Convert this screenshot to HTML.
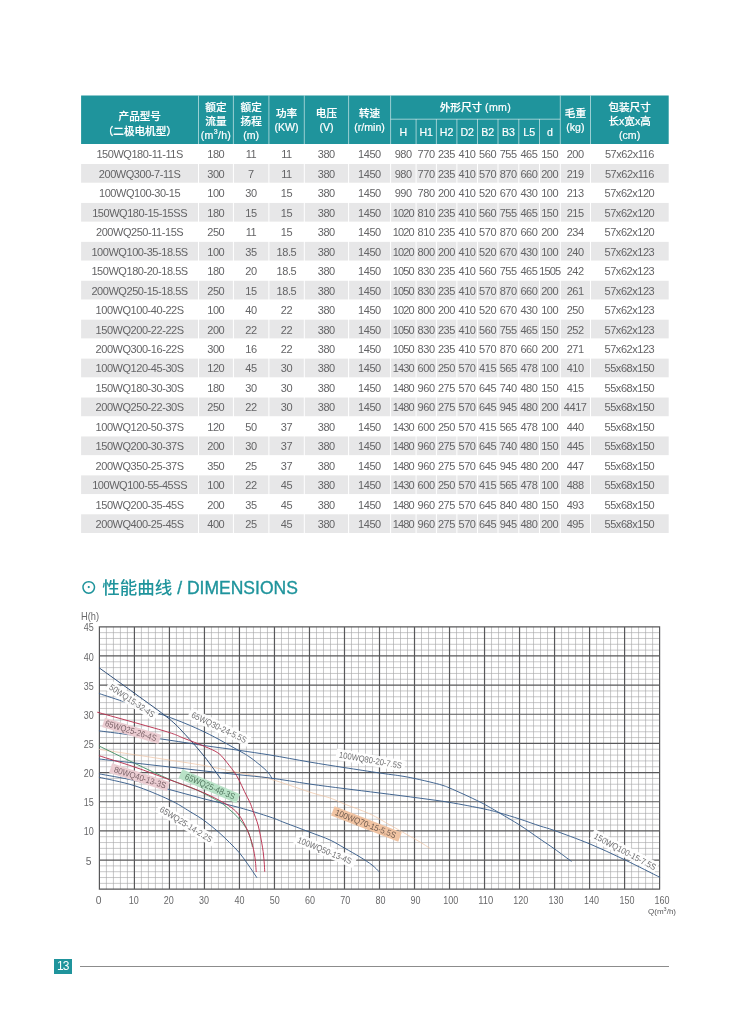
<!DOCTYPE html>
<html lang="zh-CN"><head><meta charset="utf-8"><title>WQ 性能曲线</title>
<style>
html,body{margin:0;padding:0;background:#fff;}
body{width:750px;height:1017px;position:relative;overflow:hidden;font-family:"Liberation Sans","Noto Sans CJK SC",sans-serif;color:#5a5a5a;}
.abs{position:absolute;}
.ht{position:absolute;color:#fff;font-size:10.6px;line-height:14.2px;text-align:center;font-weight:500;white-space:nowrap;-webkit-text-stroke:0.2px #fff;}
.title{position:absolute;left:80px;top:572.6px;font-size:17.5px;line-height:30px;color:#1f949c;font-weight:500;white-space:nowrap;}
svg text{font-family:"Liberation Sans","Noto Sans CJK SC",sans-serif;}
</style></head><body>
<svg width="750" height="160" viewBox="0 0 750 160" style="position:absolute;left:0;top:0">
<rect x="81.1" y="95.5" width="587.6" height="48.5" fill="#1f949c"/>
<path d="M198.5 95.5V144.0M233.4 95.5V144.0M268.9 95.5V144.0M304.3 95.5V144.0M348.6 95.5V144.0M390.6 95.5V144.0M416.1 119.2V144.0M436.4 119.2V144.0M456.9 119.2V144.0M477.5 119.2V144.0M498.0 119.2V144.0M518.8 119.2V144.0M539.5 119.2V144.0M560.3 95.5V144.0M590.5 95.5V144.0M390.6 119.2H560.3" stroke="#fff" stroke-opacity="0.62" stroke-width="0.9" fill="none"/>
</svg>
<div class="ht" style="left:81.1px;top:108.8px;width:117.4px;line-height:14.9px">产品型号<br>（二极电机型）</div>
<div class="ht" style="left:198.5px;top:99.5px;width:34.9px;">额定<br>流量<br><span style="letter-spacing:0.3px">(m<sup style="font-size:7px;line-height:0">3</sup>/h)</span></div>
<div class="ht" style="left:233.4px;top:99.5px;width:35.5px;">额定<br>扬程<br>(m)</div>
<div class="ht" style="left:268.9px;top:105.8px;width:35.4px;">功率<br>(KW)</div>
<div class="ht" style="left:304.3px;top:105.8px;width:44.3px;">电压<br>(V)</div>
<div class="ht" style="left:348.6px;top:105.8px;width:42.0px;">转速<br>(r/min)</div>
<div class="ht" style="left:390.6px;top:100.0px;width:169.7px;">外形尺寸 <span style="letter-spacing:0.35px">(mm)</span></div>
<div class="ht" style="left:390.6px;top:125.0px;width:25.5px;">H</div>
<div class="ht" style="left:416.1px;top:125.0px;width:20.3px;">H1</div>
<div class="ht" style="left:436.4px;top:125.0px;width:20.5px;">H2</div>
<div class="ht" style="left:456.9px;top:125.0px;width:20.6px;">D2</div>
<div class="ht" style="left:477.5px;top:125.0px;width:20.5px;">B2</div>
<div class="ht" style="left:498.0px;top:125.0px;width:20.8px;">B3</div>
<div class="ht" style="left:518.8px;top:125.0px;width:20.7px;">L5</div>
<div class="ht" style="left:539.5px;top:125.0px;width:20.8px;">d</div>
<div class="ht" style="left:560.3px;top:105.8px;width:30.2px;">毛重<br>(kg)</div>
<div class="ht" style="left:590.5px;top:99.5px;width:78.2px;">包装尺寸<br>长x宽x高<br>(cm)</div>
<svg width="750" height="400" viewBox="0 140 750 400" style="position:absolute;left:0;top:140px">
<rect x="81.1" y="164.01" width="587.6" height="18.7" fill="#e7e7e8"/>
<rect x="81.1" y="202.93" width="587.6" height="18.7" fill="#e7e7e8"/>
<rect x="81.1" y="241.85" width="587.6" height="18.7" fill="#e7e7e8"/>
<rect x="81.1" y="280.77" width="587.6" height="18.7" fill="#e7e7e8"/>
<rect x="81.1" y="319.69" width="587.6" height="18.7" fill="#e7e7e8"/>
<rect x="81.1" y="358.61" width="587.6" height="18.7" fill="#e7e7e8"/>
<rect x="81.1" y="397.53" width="587.6" height="18.7" fill="#e7e7e8"/>
<rect x="81.1" y="436.45" width="587.6" height="18.7" fill="#e7e7e8"/>
<rect x="81.1" y="475.37" width="587.6" height="18.7" fill="#e7e7e8"/>
<rect x="81.1" y="514.29" width="587.6" height="18.7" fill="#e7e7e8"/>
<path d="M198.5 144V533.5M233.4 144V533.5M268.9 144V533.5M304.3 144V533.5M348.6 144V533.5M390.6 144V533.5M416.1 144V533.5M436.4 144V533.5M456.9 144V533.5M477.5 144V533.5M498.0 144V533.5M518.8 144V533.5M539.5 144V533.5M560.3 144V533.5M590.5 144V533.5" stroke="#fff" stroke-width="1" fill="none"/>
<g font-size="11" fill="#646466" text-anchor="middle" letter-spacing="-0.45">
<text x="139.6" y="158">150WQ180-11-11S</text>
<text x="215.8" y="158">180</text>
<text x="250.9" y="158">11</text>
<text x="286.4" y="158">11</text>
<text x="326.3" y="158">380</text>
<text x="369.4" y="158">1450</text>
<text x="403.2" y="158">980</text>
<text x="426.1" y="158">770</text>
<text x="446.4" y="158">235</text>
<text x="467.0" y="158">410</text>
<text x="487.6" y="158">560</text>
<text x="508.2" y="158">755</text>
<text x="528.9" y="158">465</text>
<text x="549.7" y="158">150</text>
<text x="575.2" y="158">200</text>
<text x="629.4" y="158">57x62x116</text>
<text x="139.6" y="178">200WQ300-7-11S</text>
<text x="215.8" y="178">300</text>
<text x="250.9" y="178">7</text>
<text x="286.4" y="178">11</text>
<text x="326.3" y="178">380</text>
<text x="369.4" y="178">1450</text>
<text x="403.2" y="178">980</text>
<text x="426.1" y="178">770</text>
<text x="446.4" y="178">235</text>
<text x="467.0" y="178">410</text>
<text x="487.6" y="178">570</text>
<text x="508.2" y="178">870</text>
<text x="528.9" y="178">660</text>
<text x="549.7" y="178">200</text>
<text x="575.2" y="178">219</text>
<text x="629.4" y="178">57x62x116</text>
<text x="139.6" y="197">100WQ100-30-15</text>
<text x="215.8" y="197">100</text>
<text x="250.9" y="197">30</text>
<text x="286.4" y="197">15</text>
<text x="326.3" y="197">380</text>
<text x="369.4" y="197">1450</text>
<text x="403.2" y="197">990</text>
<text x="426.1" y="197">780</text>
<text x="446.4" y="197">200</text>
<text x="467.0" y="197">410</text>
<text x="487.6" y="197">520</text>
<text x="508.2" y="197">670</text>
<text x="528.9" y="197">430</text>
<text x="549.7" y="197">100</text>
<text x="575.2" y="197">213</text>
<text x="629.4" y="197">57x62x120</text>
<text x="139.6" y="217">150WQ180-15-15SS</text>
<text x="215.8" y="217">180</text>
<text x="250.9" y="217">15</text>
<text x="286.4" y="217">15</text>
<text x="326.3" y="217">380</text>
<text x="369.4" y="217">1450</text>
<text x="403.2" y="217" letter-spacing="-0.85">1020</text>
<text x="426.1" y="217">810</text>
<text x="446.4" y="217">235</text>
<text x="467.0" y="217">410</text>
<text x="487.6" y="217">560</text>
<text x="508.2" y="217">755</text>
<text x="528.9" y="217">465</text>
<text x="549.7" y="217">150</text>
<text x="575.2" y="217">215</text>
<text x="629.4" y="217">57x62x120</text>
<text x="139.6" y="236">200WQ250-11-15S</text>
<text x="215.8" y="236">250</text>
<text x="250.9" y="236">11</text>
<text x="286.4" y="236">15</text>
<text x="326.3" y="236">380</text>
<text x="369.4" y="236">1450</text>
<text x="403.2" y="236" letter-spacing="-0.85">1020</text>
<text x="426.1" y="236">810</text>
<text x="446.4" y="236">235</text>
<text x="467.0" y="236">410</text>
<text x="487.6" y="236">570</text>
<text x="508.2" y="236">870</text>
<text x="528.9" y="236">660</text>
<text x="549.7" y="236">200</text>
<text x="575.2" y="236">234</text>
<text x="629.4" y="236">57x62x120</text>
<text x="139.6" y="256">100WQ100-35-18.5S</text>
<text x="215.8" y="256">100</text>
<text x="250.9" y="256">35</text>
<text x="286.4" y="256">18.5</text>
<text x="326.3" y="256">380</text>
<text x="369.4" y="256">1450</text>
<text x="403.2" y="256" letter-spacing="-0.85">1020</text>
<text x="426.1" y="256">800</text>
<text x="446.4" y="256">200</text>
<text x="467.0" y="256">410</text>
<text x="487.6" y="256">520</text>
<text x="508.2" y="256">670</text>
<text x="528.9" y="256">430</text>
<text x="549.7" y="256">100</text>
<text x="575.2" y="256">240</text>
<text x="629.4" y="256">57x62x123</text>
<text x="139.6" y="275">150WQ180-20-18.5S</text>
<text x="215.8" y="275">180</text>
<text x="250.9" y="275">20</text>
<text x="286.4" y="275">18.5</text>
<text x="326.3" y="275">380</text>
<text x="369.4" y="275">1450</text>
<text x="403.2" y="275" letter-spacing="-0.85">1050</text>
<text x="426.1" y="275">830</text>
<text x="446.4" y="275">235</text>
<text x="467.0" y="275">410</text>
<text x="487.6" y="275">560</text>
<text x="508.2" y="275">755</text>
<text x="528.9" y="275">465</text>
<text x="549.7" y="275" letter-spacing="-0.85">1505</text>
<text x="575.2" y="275">242</text>
<text x="629.4" y="275">57x62x123</text>
<text x="139.6" y="295">200WQ250-15-18.5S</text>
<text x="215.8" y="295">250</text>
<text x="250.9" y="295">15</text>
<text x="286.4" y="295">18.5</text>
<text x="326.3" y="295">380</text>
<text x="369.4" y="295">1450</text>
<text x="403.2" y="295" letter-spacing="-0.85">1050</text>
<text x="426.1" y="295">830</text>
<text x="446.4" y="295">235</text>
<text x="467.0" y="295">410</text>
<text x="487.6" y="295">570</text>
<text x="508.2" y="295">870</text>
<text x="528.9" y="295">660</text>
<text x="549.7" y="295">200</text>
<text x="575.2" y="295">261</text>
<text x="629.4" y="295">57x62x123</text>
<text x="139.6" y="314">100WQ100-40-22S</text>
<text x="215.8" y="314">100</text>
<text x="250.9" y="314">40</text>
<text x="286.4" y="314">22</text>
<text x="326.3" y="314">380</text>
<text x="369.4" y="314">1450</text>
<text x="403.2" y="314" letter-spacing="-0.85">1020</text>
<text x="426.1" y="314">800</text>
<text x="446.4" y="314">200</text>
<text x="467.0" y="314">410</text>
<text x="487.6" y="314">520</text>
<text x="508.2" y="314">670</text>
<text x="528.9" y="314">430</text>
<text x="549.7" y="314">100</text>
<text x="575.2" y="314">250</text>
<text x="629.4" y="314">57x62x123</text>
<text x="139.6" y="334">150WQ200-22-22S</text>
<text x="215.8" y="334">200</text>
<text x="250.9" y="334">22</text>
<text x="286.4" y="334">22</text>
<text x="326.3" y="334">380</text>
<text x="369.4" y="334">1450</text>
<text x="403.2" y="334" letter-spacing="-0.85">1050</text>
<text x="426.1" y="334">830</text>
<text x="446.4" y="334">235</text>
<text x="467.0" y="334">410</text>
<text x="487.6" y="334">560</text>
<text x="508.2" y="334">755</text>
<text x="528.9" y="334">465</text>
<text x="549.7" y="334">150</text>
<text x="575.2" y="334">252</text>
<text x="629.4" y="334">57x62x123</text>
<text x="139.6" y="353">200WQ300-16-22S</text>
<text x="215.8" y="353">300</text>
<text x="250.9" y="353">16</text>
<text x="286.4" y="353">22</text>
<text x="326.3" y="353">380</text>
<text x="369.4" y="353">1450</text>
<text x="403.2" y="353" letter-spacing="-0.85">1050</text>
<text x="426.1" y="353">830</text>
<text x="446.4" y="353">235</text>
<text x="467.0" y="353">410</text>
<text x="487.6" y="353">570</text>
<text x="508.2" y="353">870</text>
<text x="528.9" y="353">660</text>
<text x="549.7" y="353">200</text>
<text x="575.2" y="353">271</text>
<text x="629.4" y="353">57x62x123</text>
<text x="139.6" y="372">100WQ120-45-30S</text>
<text x="215.8" y="372">120</text>
<text x="250.9" y="372">45</text>
<text x="286.4" y="372">30</text>
<text x="326.3" y="372">380</text>
<text x="369.4" y="372">1450</text>
<text x="403.2" y="372" letter-spacing="-0.85">1430</text>
<text x="426.1" y="372">600</text>
<text x="446.4" y="372">250</text>
<text x="467.0" y="372">570</text>
<text x="487.6" y="372">415</text>
<text x="508.2" y="372">565</text>
<text x="528.9" y="372">478</text>
<text x="549.7" y="372">100</text>
<text x="575.2" y="372">410</text>
<text x="629.4" y="372">55x68x150</text>
<text x="139.6" y="392">150WQ180-30-30S</text>
<text x="215.8" y="392">180</text>
<text x="250.9" y="392">30</text>
<text x="286.4" y="392">30</text>
<text x="326.3" y="392">380</text>
<text x="369.4" y="392">1450</text>
<text x="403.2" y="392" letter-spacing="-0.85">1480</text>
<text x="426.1" y="392">960</text>
<text x="446.4" y="392">275</text>
<text x="467.0" y="392">570</text>
<text x="487.6" y="392">645</text>
<text x="508.2" y="392">740</text>
<text x="528.9" y="392">480</text>
<text x="549.7" y="392">150</text>
<text x="575.2" y="392">415</text>
<text x="629.4" y="392">55x68x150</text>
<text x="139.6" y="411">200WQ250-22-30S</text>
<text x="215.8" y="411">250</text>
<text x="250.9" y="411">22</text>
<text x="286.4" y="411">30</text>
<text x="326.3" y="411">380</text>
<text x="369.4" y="411">1450</text>
<text x="403.2" y="411" letter-spacing="-0.85">1480</text>
<text x="426.1" y="411">960</text>
<text x="446.4" y="411">275</text>
<text x="467.0" y="411">570</text>
<text x="487.6" y="411">645</text>
<text x="508.2" y="411">945</text>
<text x="528.9" y="411">480</text>
<text x="549.7" y="411">200</text>
<text x="575.2" y="411">4417</text>
<text x="629.4" y="411">55x68x150</text>
<text x="139.6" y="431">100WQ120-50-37S</text>
<text x="215.8" y="431">120</text>
<text x="250.9" y="431">50</text>
<text x="286.4" y="431">37</text>
<text x="326.3" y="431">380</text>
<text x="369.4" y="431">1450</text>
<text x="403.2" y="431" letter-spacing="-0.85">1430</text>
<text x="426.1" y="431">600</text>
<text x="446.4" y="431">250</text>
<text x="467.0" y="431">570</text>
<text x="487.6" y="431">415</text>
<text x="508.2" y="431">565</text>
<text x="528.9" y="431">478</text>
<text x="549.7" y="431">100</text>
<text x="575.2" y="431">440</text>
<text x="629.4" y="431">55x68x150</text>
<text x="139.6" y="450">150WQ200-30-37S</text>
<text x="215.8" y="450">200</text>
<text x="250.9" y="450">30</text>
<text x="286.4" y="450">37</text>
<text x="326.3" y="450">380</text>
<text x="369.4" y="450">1450</text>
<text x="403.2" y="450" letter-spacing="-0.85">1480</text>
<text x="426.1" y="450">960</text>
<text x="446.4" y="450">275</text>
<text x="467.0" y="450">570</text>
<text x="487.6" y="450">645</text>
<text x="508.2" y="450">740</text>
<text x="528.9" y="450">480</text>
<text x="549.7" y="450">150</text>
<text x="575.2" y="450">445</text>
<text x="629.4" y="450">55x68x150</text>
<text x="139.6" y="470">200WQ350-25-37S</text>
<text x="215.8" y="470">350</text>
<text x="250.9" y="470">25</text>
<text x="286.4" y="470">37</text>
<text x="326.3" y="470">380</text>
<text x="369.4" y="470">1450</text>
<text x="403.2" y="470" letter-spacing="-0.85">1480</text>
<text x="426.1" y="470">960</text>
<text x="446.4" y="470">275</text>
<text x="467.0" y="470">570</text>
<text x="487.6" y="470">645</text>
<text x="508.2" y="470">945</text>
<text x="528.9" y="470">480</text>
<text x="549.7" y="470">200</text>
<text x="575.2" y="470">447</text>
<text x="629.4" y="470">55x68x150</text>
<text x="139.6" y="489">100WQ100-55-45SS</text>
<text x="215.8" y="489">100</text>
<text x="250.9" y="489">22</text>
<text x="286.4" y="489">45</text>
<text x="326.3" y="489">380</text>
<text x="369.4" y="489">1450</text>
<text x="403.2" y="489" letter-spacing="-0.85">1430</text>
<text x="426.1" y="489">600</text>
<text x="446.4" y="489">250</text>
<text x="467.0" y="489">570</text>
<text x="487.6" y="489">415</text>
<text x="508.2" y="489">565</text>
<text x="528.9" y="489">478</text>
<text x="549.7" y="489">100</text>
<text x="575.2" y="489">488</text>
<text x="629.4" y="489">55x68x150</text>
<text x="139.6" y="509">150WQ200-35-45S</text>
<text x="215.8" y="509">200</text>
<text x="250.9" y="509">35</text>
<text x="286.4" y="509">45</text>
<text x="326.3" y="509">380</text>
<text x="369.4" y="509">1450</text>
<text x="403.2" y="509" letter-spacing="-0.85">1480</text>
<text x="426.1" y="509">960</text>
<text x="446.4" y="509">275</text>
<text x="467.0" y="509">570</text>
<text x="487.6" y="509">645</text>
<text x="508.2" y="509">840</text>
<text x="528.9" y="509">480</text>
<text x="549.7" y="509">150</text>
<text x="575.2" y="509">493</text>
<text x="629.4" y="509">55x68x150</text>
<text x="139.6" y="528">200WQ400-25-45S</text>
<text x="215.8" y="528">400</text>
<text x="250.9" y="528">25</text>
<text x="286.4" y="528">45</text>
<text x="326.3" y="528">380</text>
<text x="369.4" y="528">1450</text>
<text x="403.2" y="528" letter-spacing="-0.85">1480</text>
<text x="426.1" y="528">960</text>
<text x="446.4" y="528">275</text>
<text x="467.0" y="528">570</text>
<text x="487.6" y="528">645</text>
<text x="508.2" y="528">945</text>
<text x="528.9" y="528">480</text>
<text x="549.7" y="528">200</text>
<text x="575.2" y="528">495</text>
<text x="629.4" y="528">55x68x150</text>
</g></svg>
<div class="title">⊙ 性能曲线 <span style="-webkit-text-stroke:0.35px #1f949c">/ DIMENSIONS</span></div>
<svg width="750" height="1017" viewBox="0 0 750 1017" style="position:absolute;left:0;top:0">
<path d="M106.40 626.8V889.2M113.41 626.8V889.2M120.41 626.8V889.2M127.41 626.8V889.2M141.42 626.8V889.2M148.42 626.8V889.2M155.42 626.8V889.2M162.42 626.8V889.2M176.43 626.8V889.2M183.43 626.8V889.2M190.43 626.8V889.2M197.44 626.8V889.2M211.44 626.8V889.2M218.44 626.8V889.2M225.44 626.8V889.2M232.45 626.8V889.2M246.45 626.8V889.2M253.46 626.8V889.2M260.46 626.8V889.2M267.46 626.8V889.2M281.47 626.8V889.2M288.47 626.8V889.2M295.47 626.8V889.2M302.47 626.8V889.2M316.48 626.8V889.2M323.48 626.8V889.2M330.48 626.8V889.2M337.49 626.8V889.2M351.49 626.8V889.2M358.49 626.8V889.2M365.50 626.8V889.2M372.50 626.8V889.2M386.50 626.8V889.2M393.50 626.8V889.2M400.51 626.8V889.2M407.51 626.8V889.2M421.51 626.8V889.2M428.52 626.8V889.2M435.52 626.8V889.2M442.52 626.8V889.2M456.53 626.8V889.2M463.53 626.8V889.2M470.53 626.8V889.2M477.54 626.8V889.2M491.54 626.8V889.2M498.54 626.8V889.2M505.55 626.8V889.2M512.55 626.8V889.2M526.55 626.8V889.2M533.56 626.8V889.2M540.56 626.8V889.2M547.56 626.8V889.2M561.57 626.8V889.2M568.57 626.8V889.2M575.57 626.8V889.2M582.57 626.8V889.2M596.58 626.8V889.2M603.58 626.8V889.2M610.58 626.8V889.2M617.59 626.8V889.2M631.59 626.8V889.2M638.59 626.8V889.2M645.60 626.8V889.2M652.60 626.8V889.2M99.4 883.37H659.6M99.4 877.54H659.6M99.4 871.71H659.6M99.4 865.88H659.6M99.4 854.21H659.6M99.4 848.38H659.6M99.4 842.55H659.6M99.4 836.72H659.6M99.4 825.06H659.6M99.4 819.23H659.6M99.4 813.40H659.6M99.4 807.56H659.6M99.4 795.90H659.6M99.4 790.07H659.6M99.4 784.24H659.6M99.4 778.41H659.6M99.4 766.75H659.6M99.4 760.92H659.6M99.4 755.08H659.6M99.4 749.25H659.6M99.4 737.59H659.6M99.4 731.76H659.6M99.4 725.93H659.6M99.4 720.10H659.6M99.4 708.44H659.6M99.4 702.60H659.6M99.4 696.77H659.6M99.4 690.94H659.6M99.4 679.28H659.6M99.4 673.45H659.6M99.4 667.62H659.6M99.4 661.79H659.6M99.4 650.12H659.6M99.4 644.29H659.6M99.4 638.46H659.6M99.4 632.63H659.6" stroke="#a6a6a7" stroke-width="0.62" fill="none"/>
<path d="M99.40 626.3V889.7M134.41 626.3V889.7M169.43 626.3V889.7M204.44 626.3V889.7M239.45 626.3V889.7M274.46 626.3V889.7M309.48 626.3V889.7M344.49 626.3V889.7M379.50 626.3V889.7M414.51 626.3V889.7M449.53 626.3V889.7M484.54 626.3V889.7M519.55 626.3V889.7M554.56 626.3V889.7M589.58 626.3V889.7M624.59 626.3V889.7M659.60 626.3V889.7M98.9 889.20H660.1M98.9 860.04H660.1M98.9 830.89H660.1M98.9 801.73H660.1M98.9 772.58H660.1M98.9 743.42H660.1M98.9 714.27H660.1M98.9 685.11H660.1M98.9 655.96H660.1M98.9 626.80H660.1" stroke="#58585a" stroke-width="1.2" fill="none"/>
<path d="M99.3 749.4C105.2 750.3 122.8 752.9 134.5 754.7C146.2 756.5 158.0 758.3 169.7 760.1C181.4 761.9 192.9 763.5 204.5 765.6C216.1 767.7 228.5 770.6 239.4 772.8C250.3 775.0 258.3 775.8 270.0 779.0C281.7 782.2 299.4 788.8 309.4 792.0C319.4 795.2 324.2 796.0 330.0 798.0C335.8 800.0 337.7 801.3 344.4 804.0C351.1 806.7 362.4 810.5 370.0 814.0C377.6 817.5 384.0 821.7 390.0 825.0C396.0 828.3 401.0 831.2 406.0 834.0C411.0 836.8 416.1 839.7 420.0 842.0C423.9 844.3 427.8 847.0 429.4 848.0" stroke="#efc3a2" stroke-width="0.7" fill="none" stroke-linecap="round"/>
<path d="M99.3 746.1C105.2 749.0 122.8 757.6 134.5 763.2C146.2 768.8 159.3 775.0 169.7 779.5C180.1 784.0 189.1 786.6 197.0 790.1C204.9 793.6 212.8 798.1 217.3 800.6C221.8 803.1 222.0 803.4 224.0 804.9C226.0 806.4 227.3 807.7 229.5 809.6C231.7 811.5 234.6 814.0 236.9 816.4C239.2 818.8 241.4 821.3 243.3 823.9C245.2 826.5 246.8 828.9 248.1 831.8C249.4 834.6 250.5 838.5 251.2 841.0C251.9 843.5 252.1 845.6 252.3 846.5" stroke="#3f8f63" stroke-width="0.9" fill="none" stroke-linecap="round"/>
<path d="M99.3 759.0C105.2 759.7 122.8 761.7 134.5 763.0C146.2 764.3 158.0 765.7 169.7 767.0C181.4 768.3 193.0 769.7 204.6 771.0C216.2 772.3 228.5 773.6 239.4 774.8C250.3 776.0 258.3 776.5 270.0 778.0C281.7 779.5 297.0 782.2 309.4 784.0C321.8 785.8 332.7 787.1 344.4 788.6C356.1 790.1 367.0 791.4 379.6 793.0C392.2 794.6 408.3 796.6 420.0 798.2C431.7 799.8 438.9 800.6 449.6 802.4C460.3 804.2 476.0 807.2 484.4 809.0C492.8 810.8 494.1 811.3 500.0 813.0C505.9 814.7 512.9 816.8 519.6 819.0C526.3 821.2 534.2 824.1 540.0 826.0C545.8 827.9 546.4 827.6 554.6 830.6C562.8 833.6 577.6 838.9 589.3 843.7C600.9 848.6 612.8 854.1 624.5 859.7C636.2 865.3 653.8 874.3 659.7 877.2" stroke="#3a5f8c" stroke-width="0.95" fill="none" stroke-linecap="round"/>
<path d="M99.3 730.9C109.5 732.2 143.1 736.4 160.6 738.9C178.1 741.4 191.4 743.7 204.5 745.6C217.6 747.5 228.5 748.8 239.4 750.4C250.3 752.0 258.3 753.1 270.0 755.0C281.7 756.9 297.0 759.9 309.4 762.0C321.8 764.1 332.7 765.8 344.4 767.6C356.1 769.4 370.3 771.6 379.6 773.0C388.9 774.4 394.1 774.9 400.0 775.8C405.9 776.7 409.1 777.3 414.7 778.5C420.2 779.7 428.4 781.6 433.3 782.8C438.2 784.0 441.3 784.9 444.0 785.8C446.7 786.7 446.3 786.6 449.6 788.0C452.9 789.4 458.9 792.1 464.0 794.4C469.1 796.7 475.6 799.8 480.0 802.0C484.4 804.2 487.4 805.9 490.7 807.8C494.0 809.7 495.2 810.4 500.0 813.3C504.8 816.2 512.9 820.7 519.6 825.0C526.3 829.3 534.2 835.0 540.0 839.0C545.8 843.0 549.4 845.3 554.6 849.0C559.8 852.7 568.4 859.2 571.2 861.2" stroke="#3a5f8c" stroke-width="0.95" fill="none" stroke-linecap="round"/>
<path d="M99.3 773.9C105.2 775.0 122.8 777.9 134.5 780.5C146.2 783.1 157.7 786.4 169.4 789.5C181.1 792.6 192.9 796.0 204.6 799.0C216.3 802.0 228.5 804.6 239.4 807.6C250.3 810.6 262.4 814.5 270.0 817.0C277.6 819.5 278.4 820.3 285.0 822.8C291.6 825.3 301.9 829.1 309.4 832.0C316.9 834.9 324.2 837.3 330.0 840.0C335.8 842.7 339.4 845.2 344.4 848.0C349.4 850.8 355.4 854.2 360.0 857.0C364.6 859.8 368.8 862.6 372.0 865.0C375.2 867.4 377.8 870.5 379.0 871.6" stroke="#3a5f8c" stroke-width="0.95" fill="none" stroke-linecap="round"/>
<path d="M99.3 777.3C105.2 778.7 122.8 782.0 134.5 785.7C146.2 789.5 160.2 795.5 169.4 799.8C178.7 804.1 184.2 808.1 190.0 811.6C195.8 815.1 199.7 817.3 204.4 820.7C209.1 824.1 214.1 828.3 218.3 831.9C222.5 835.5 226.0 839.0 229.5 842.5C233.0 846.0 236.3 849.1 239.3 852.7C242.3 856.3 244.7 859.8 247.6 863.9C250.5 868.0 255.2 875.1 256.7 877.4" stroke="#3a5f8c" stroke-width="0.95" fill="none" stroke-linecap="round"/>
<path d="M99.3 693.6C110.0 697.2 146.3 708.8 163.8 715.2C181.3 721.6 191.9 726.0 204.5 732.0C217.1 738.0 231.8 746.7 239.4 750.9C247.0 755.1 247.0 755.3 250.0 757.3C253.0 759.3 254.9 760.9 257.2 762.8C259.5 764.6 262.1 766.7 264.0 768.4C265.9 770.1 267.0 771.1 268.4 772.8C269.8 774.5 271.6 777.8 272.3 778.8" stroke="#3a5f8c" stroke-width="0.95" fill="none" stroke-linecap="round"/>
<path d="M99.4 668.0C105.3 672.3 123.5 685.2 135.0 693.6C146.5 702.0 160.3 711.6 168.6 718.4C176.9 725.2 179.0 727.9 185.0 734.3C191.0 740.7 198.7 749.4 204.6 756.8C210.5 764.2 217.9 775.1 220.6 778.7" stroke="#30507a" stroke-width="1.0" fill="none" stroke-linecap="round"/>
<path d="M99.3 755.8C105.2 757.7 122.8 763.0 134.5 767.0C146.2 771.0 159.3 776.0 169.7 779.8C180.1 783.6 188.7 786.6 197.0 790.0C205.3 793.4 213.0 796.9 219.4 800.4C225.8 803.9 231.1 806.7 235.4 810.8C239.7 814.9 242.3 820.1 245.0 825.2C247.7 830.3 249.8 835.9 251.4 841.2C253.1 846.5 254.1 852.1 254.9 857.2C255.7 862.3 256.0 869.2 256.2 871.6" stroke="#b8304f" stroke-width="0.95" fill="none" stroke-linecap="round"/>
<path d="M97.6 712.3C108.8 715.4 150.6 726.9 165.0 731.2C179.4 735.6 177.6 735.9 184.2 738.4C190.8 740.9 198.9 744.0 204.5 746.4C210.1 748.8 214.4 750.5 217.8 752.8C221.2 755.1 222.3 756.9 224.9 760.0C227.5 763.1 231.2 767.9 233.6 771.2C235.9 774.5 237.2 776.6 239.0 780.0C240.8 783.4 242.6 787.6 244.4 791.4C246.2 795.2 248.6 799.5 250.0 802.7C251.4 805.9 251.6 806.9 253.0 810.8C254.4 814.7 256.7 819.9 258.3 826.0C259.9 832.1 261.5 841.4 262.5 847.3C263.5 853.2 263.7 857.2 264.1 861.2C264.5 865.2 264.6 869.7 264.7 871.4" stroke="#b8304f" stroke-width="0.95" fill="none" stroke-linecap="round"/>
<g transform="translate(108.6 688.8) rotate(33.5)">
<rect x="-3.0" y="-8.6" width="58.4" height="11.2" fill="#fff" fill-opacity="0.92"/>
<text x="0" y="0" font-size="8.7" fill="#6e6e70" textLength="52.4" lengthAdjust="spacingAndGlyphs">50WQ15-32-4S</text>
</g>
<g transform="translate(190.7 716.9) rotate(25.8)">
<rect x="-3.0" y="-8.6" width="66.3" height="11.2" fill="#fff" fill-opacity="0.92"/>
<text x="0" y="0" font-size="8.7" fill="#6e6e70" textLength="60.3" lengthAdjust="spacingAndGlyphs">65WQ30-24-5.5S</text>
</g>
<g transform="translate(104.5 725.8) rotate(16.8)">
<rect x="-2.0" y="-7.9" width="58.9" height="9.8" fill="#ebcdd2"/>
<text x="0" y="0" font-size="8.7" fill="#7b6268" textLength="53.4" lengthAdjust="spacingAndGlyphs">65WQ25-26-4S</text>
</g>
<g transform="translate(338.6 757.6) rotate(10)">
<rect x="-3.0" y="-8.6" width="69.7" height="11.2" fill="#fff" fill-opacity="0.92"/>
<text x="0" y="0" font-size="8.7" fill="#6e6e70" textLength="63.7" lengthAdjust="spacingAndGlyphs">100WQ80-20-7.5S</text>
</g>
<g transform="translate(113.5 772.1) rotate(17.8)">
<rect x="-4.0" y="-7.9" width="60.7" height="9.8" fill="#ebcdd2"/>
<text x="0" y="0" font-size="8.7" fill="#7b6268" textLength="54.1" lengthAdjust="spacingAndGlyphs">80WQ40-13-3S</text>
</g>
<g transform="translate(184.3 778.7) rotate(23.3)">
<rect x="-5.5" y="-7.9" width="62.9" height="9.8" fill="#b9e2c7"/>
<text x="0" y="0" font-size="8.7" fill="#52775f" textLength="53.4" lengthAdjust="spacingAndGlyphs">65WQ25-48-3S</text>
</g>
<g transform="translate(159.1 811.0) rotate(31.8)">
<rect x="-3.0" y="-8.6" width="66.0" height="11.2" fill="#fff" fill-opacity="0.92"/>
<text x="0" y="0" font-size="8.7" fill="#6e6e70" textLength="60.0" lengthAdjust="spacingAndGlyphs">65WQ25-14-2.2S</text>
</g>
<g transform="translate(296.8 842.2) rotate(22.4)">
<rect x="-3.0" y="-8.6" width="64.8" height="11.2" fill="#fff" fill-opacity="0.92"/>
<text x="0" y="0" font-size="8.7" fill="#6e6e70" textLength="57.8" lengthAdjust="spacingAndGlyphs">100WQ50-13-4S</text>
</g>
<g transform="translate(334.5 814.8) rotate(21.3)">
<rect x="-3.0" y="-7.9" width="72.1" height="9.8" fill="#f0c3a2"/>
<text x="0" y="0" font-size="8.7" fill="#6e5a4e" textLength="64.6" lengthAdjust="spacingAndGlyphs">100WQ70-15-5.5S</text>
</g>
<g transform="translate(593.3 838.1) rotate(27.9)">
<rect x="-3.0" y="-8.6" width="73.1" height="11.2" fill="#fff" fill-opacity="0.92"/>
<text x="0" y="0" font-size="8.7" fill="#6e6e70" textLength="68.9" lengthAdjust="spacingAndGlyphs">150WQ100-15-7.5S</text>
</g>
<g font-size="10.3" fill="#68686a" text-anchor="middle">
<text x="90" y="620.3" textLength="18" lengthAdjust="spacingAndGlyphs">H(h)</text>
<text x="88.7" y="864.5">5</text>
<text x="88.7" y="835.4" textLength="10.0" lengthAdjust="spacingAndGlyphs">10</text>
<text x="88.7" y="806.2" textLength="10.0" lengthAdjust="spacingAndGlyphs">15</text>
<text x="88.7" y="777.1" textLength="10.0" lengthAdjust="spacingAndGlyphs">20</text>
<text x="88.7" y="747.9" textLength="10.0" lengthAdjust="spacingAndGlyphs">25</text>
<text x="88.7" y="718.8" textLength="10.0" lengthAdjust="spacingAndGlyphs">30</text>
<text x="88.7" y="689.6" textLength="10.0" lengthAdjust="spacingAndGlyphs">35</text>
<text x="88.7" y="660.5" textLength="10.0" lengthAdjust="spacingAndGlyphs">40</text>
<text x="88.7" y="631.3" textLength="10.0" lengthAdjust="spacingAndGlyphs">45</text>
<text x="98.6" y="904">0</text>
<text x="133.7" y="904" textLength="10.0" lengthAdjust="spacingAndGlyphs">10</text>
<text x="168.8" y="904" textLength="10.0" lengthAdjust="spacingAndGlyphs">20</text>
<text x="204.1" y="904" textLength="10.0" lengthAdjust="spacingAndGlyphs">30</text>
<text x="239.4" y="904" textLength="10.0" lengthAdjust="spacingAndGlyphs">40</text>
<text x="274.7" y="904" textLength="10.0" lengthAdjust="spacingAndGlyphs">50</text>
<text x="310.0" y="904" textLength="10.0" lengthAdjust="spacingAndGlyphs">60</text>
<text x="345.3" y="904" textLength="10.0" lengthAdjust="spacingAndGlyphs">70</text>
<text x="380.6" y="904" textLength="10.0" lengthAdjust="spacingAndGlyphs">80</text>
<text x="415.6" y="904" textLength="10.0" lengthAdjust="spacingAndGlyphs">90</text>
<text x="450.7" y="904" textLength="15.0" lengthAdjust="spacingAndGlyphs">100</text>
<text x="485.7" y="904" textLength="15.0" lengthAdjust="spacingAndGlyphs">110</text>
<text x="520.8" y="904" textLength="15.0" lengthAdjust="spacingAndGlyphs">120</text>
<text x="556.1" y="904" textLength="15.0" lengthAdjust="spacingAndGlyphs">130</text>
<text x="591.4" y="904" textLength="15.0" lengthAdjust="spacingAndGlyphs">140</text>
<text x="627.0" y="904" textLength="15.0" lengthAdjust="spacingAndGlyphs">150</text>
<text x="661.9" y="904" textLength="15.0" lengthAdjust="spacingAndGlyphs">160</text>
</g>
<text x="676" y="914" text-anchor="end" font-size="8" fill="#58585a">Q(m<tspan dy="-3" font-size="5.5">3</tspan><tspan dy="3">/h)</tspan></text>
</svg>
<div class="abs" style="left:54.4px;top:959px;width:17.6px;height:14.7px;background:#1f949c;color:#fff;font-size:12px;line-height:15px;text-align:center;letter-spacing:-1px;text-indent:-1px">13</div>
<div class="abs" style="left:80px;top:966px;width:589px;height:1px;background:#8c8c8c"></div>
</body></html>
